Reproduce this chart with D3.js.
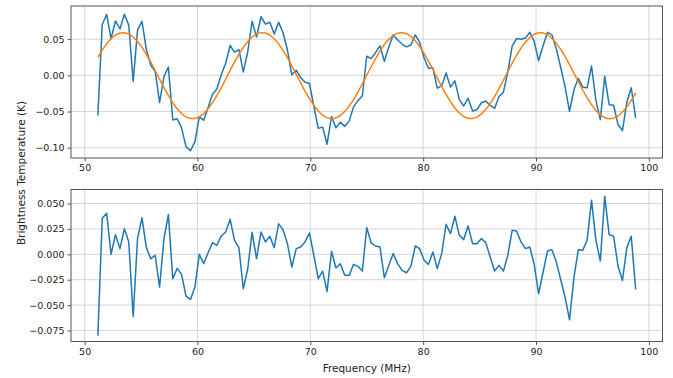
<!DOCTYPE html>
<html>
<head>
<meta charset="utf-8">
<script src="https://cdn.jsdelivr.net/npm/d3@7"></script>
<style>
  html, body { margin: 0; padding: 0; background: #fff; }
  svg { display: block; font-family: "DejaVu Sans", sans-serif; }
</style>
</head>
<body>
<svg id="chart" width="673" height="378"></svg>
<script>
// frequency channels (MHz)
const freqs = [51.17, 51.56, 51.95, 52.34, 52.73, 53.13, 53.52, 53.91, 54.30, 54.69,
  55.08, 55.47, 55.86, 56.25, 56.64, 57.03, 57.42, 57.81, 58.20, 58.59,
  58.98, 59.38, 59.77, 60.16, 60.55, 60.94, 61.33, 61.72, 62.11, 62.50,
  62.89, 63.28, 63.67, 64.06, 64.45, 64.84, 65.23, 65.63, 66.02, 66.41,
  66.80, 67.19, 67.58, 67.97, 68.36, 68.75, 69.14, 69.53, 69.92, 70.31,
  70.70, 71.09, 71.48, 71.88, 72.27, 72.66, 73.05, 73.44, 73.83, 74.22,
  74.61, 75.00, 75.39, 75.78, 76.17, 76.56, 76.95, 77.34, 77.73, 78.13,
  78.52, 78.91, 79.30, 79.69, 80.08, 80.47, 80.86, 81.25, 81.64, 82.03,
  82.42, 82.81, 83.20, 83.59, 83.98, 84.38, 84.77, 85.16, 85.55, 85.94,
  86.33, 86.72, 87.11, 87.50, 87.89, 88.28, 88.67, 89.06, 89.45, 89.84,
  90.23, 90.63, 91.02, 91.41, 91.80, 92.19, 92.58, 92.97, 93.36, 93.75,
  94.14, 94.53, 94.92, 95.31, 95.70, 96.09, 96.48, 96.88, 97.27, 97.66,
  98.05, 98.44, 98.83];

// measured brightness temperature (K)
const tbData = [-0.0554, 0.0702, 0.0840, 0.0506, 0.0750, 0.0640, 0.0842, 0.0692, -0.0083, 0.0628,
  0.0745, 0.0356, 0.0139, 0.0056, -0.0374, -0.0014, 0.0114, -0.0617, -0.0600, -0.0725,
  -0.0985, -0.1041, -0.0919, -0.0574, -0.0620, -0.0446, -0.0263, -0.0190, 0.0012, 0.0167,
  0.0412, 0.0320, 0.0356, 0.0047, 0.0322, 0.0746, 0.0528, 0.0809, 0.0706, 0.0733,
  0.0571, 0.0734, 0.0588, 0.0349, 0.0007, 0.0070, -0.0031, -0.0096, -0.0113, -0.0426,
  -0.0733, -0.0716, -0.0952, -0.0570, -0.0724, -0.0647, -0.0705, -0.0633, -0.0436, -0.0350,
  -0.0282, 0.0264, 0.0230, 0.0313, 0.0407, 0.0195, 0.0389, 0.0558, 0.0490, 0.0432,
  0.0393, 0.0418, 0.0558, 0.0453, 0.0243, 0.0097, 0.0104, -0.0178, -0.0147, 0.0032,
  -0.0161, -0.0077, -0.0333, -0.0424, -0.0316, -0.0493, -0.0473, -0.0379, -0.0355, -0.0416,
  -0.0458, -0.0293, -0.0233, 0.0043, 0.0405, 0.0507, 0.0497, 0.0514, 0.0594, 0.0468,
  0.0200, 0.0412, 0.0593, 0.0558, 0.0368, 0.0108, -0.0164, -0.0499, -0.0200, -0.0042,
  -0.0164, -0.0173, 0.0128, -0.0347, -0.0612, -0.0013, -0.0406, -0.0414, -0.0680, -0.0764,
  -0.0370, -0.0172, -0.0589];

// fitted sinusoid (K)
const tbFit = [0.0246, 0.0347, 0.0435, 0.0506, 0.0556, 0.0584, 0.0589, 0.0570, 0.0529, 0.0467,
  0.0386, 0.0290, 0.0182, 0.0066, -0.0052, -0.0169, -0.0278, -0.0377, -0.0462, -0.0528,
  -0.0574, -0.0597, -0.0597, -0.0574, -0.0528, -0.0462, -0.0378, -0.0279, -0.0169, -0.0053,
  0.0067, 0.0182, 0.0290, 0.0386, 0.0467, 0.0529, 0.0571, 0.0589, 0.0584, 0.0555,
  0.0505, 0.0434, 0.0345, 0.0244, 0.0132, 0.0014, -0.0103, -0.0218, -0.0323, -0.0416,
  -0.0493, -0.0551, -0.0587, -0.0600, -0.0589, -0.0555, -0.0498, -0.0426, -0.0337, -0.0232,
  -0.0117, 0.0001, 0.0118, 0.0231, 0.0335, 0.0425, 0.0498, 0.0551, 0.0582, 0.0590,
  0.0574, 0.0536, 0.0476, 0.0397, 0.0302, 0.0196, 0.0081, -0.0037, -0.0154, -0.0264,
  -0.0365, -0.0452, -0.0520, -0.0569, -0.0596, -0.0598, -0.0578, -0.0534, -0.0470, -0.0390,
  -0.0293, -0.0184, -0.0068, 0.0053, 0.0168, 0.0277, 0.0375, 0.0458, 0.0522, 0.0567,
  0.0588, 0.0586, 0.0560, 0.0512, 0.0444, 0.0358, 0.0257, 0.0146, 0.0030, -0.0088,
  -0.0203, -0.0311, -0.0405, -0.0485, -0.0546, -0.0585, -0.0600, -0.0592, -0.0562, -0.0507,
  -0.0436, -0.0350, -0.0244];

// residual, data minus fit (K)
const tbResid = [-0.0800, 0.0355, 0.0405, 0.0000, 0.0194, 0.0056, 0.0253, 0.0122, -0.0612, 0.0161,
  0.0359, 0.0066, -0.0043, -0.0010, -0.0322, 0.0155, 0.0392, -0.0240, -0.0138, -0.0197,
  -0.0411, -0.0444, -0.0322, 0.0000, -0.0092, 0.0016, 0.0115, 0.0089, 0.0181, 0.0220,
  0.0345, 0.0138, 0.0066, -0.0339, -0.0145, 0.0217, -0.0043, 0.0220, 0.0122, 0.0178,
  0.0066, 0.0300, 0.0243, 0.0105, -0.0125, 0.0056, 0.0072, 0.0122, 0.0210, -0.0010,
  -0.0240, -0.0165, -0.0365, 0.0030, -0.0135, -0.0092, -0.0207, -0.0207, -0.0099, -0.0118,
  -0.0165, 0.0263, 0.0112, 0.0082, 0.0072, -0.0230, -0.0109, 0.0007, -0.0092, -0.0158,
  -0.0181, -0.0118, 0.0082, 0.0056, -0.0059, -0.0099, 0.0023, -0.0141, 0.0007, 0.0296,
  0.0204, 0.0375, 0.0187, 0.0145, 0.0280, 0.0105, 0.0105, 0.0155, 0.0115, -0.0026,
  -0.0165, -0.0109, -0.0165, -0.0010, 0.0237, 0.0230, 0.0122, 0.0056, 0.0072, -0.0099,
  -0.0388, -0.0174, 0.0033, 0.0046, -0.0076, -0.0250, -0.0421, -0.0645, -0.0230, 0.0046,
  0.0039, 0.0138, 0.0533, 0.0138, -0.0066, 0.0572, 0.0194, 0.0178, -0.0118, -0.0257,
  0.0066, 0.0178, -0.0345];

const xTicks = [50, 60, 70, 80, 90, 100];
const topYTicks = [-0.10, -0.05, 0.00, 0.05];
const botYTicks = [-0.075, -0.050, -0.025, 0.000, 0.025, 0.050];

const blue = '#1f77b4';
const orange = '#ff7f0e';

const svg = d3.select('#chart');
const left = 71, right = 662.5;

const x = d3.scaleLinear()
  .domain([48.79, 101.21])
  .range([left, right]);

function drawPanel(top, bottom, yDomain, yTicks, yFmt, series) {
  const y = d3.scaleLinear().domain(yDomain).range([bottom, top]);
  const g = svg.append('g');

  // grid
  g.append('g').selectAll('line')
    .data(xTicks)
    .enter().append('line')
    .attr('x1', d => x(d)).attr('x2', d => x(d))
    .attr('y1', top).attr('y2', bottom)
    .attr('stroke', '#d6d6d6').attr('stroke-width', 1);
  g.append('g').selectAll('line')
    .data(yTicks)
    .enter().append('line')
    .attr('x1', left).attr('x2', right)
    .attr('y1', d => y(d)).attr('y2', d => y(d))
    .attr('stroke', '#d6d6d6').attr('stroke-width', 1);

  // lines
  series.forEach(s => {
    const line = d3.line()
      .x((d, i) => x(freqs[i]))
      .y(d => y(d));
    g.append('path')
      .datum(s.values)
      .attr('d', line)
      .attr('fill', 'none')
      .attr('stroke', s.color)
      .attr('stroke-width', 1.5)
      .attr('stroke-linejoin', 'round');
  });

  // axes
  const xAxis = g.append('g')
    .attr('transform', 'translate(0,' + bottom + ')')
    .call(d3.axisBottom(x).tickValues(xTicks).tickSize(3.5).tickPadding(3).tickFormat(d3.format('d')));
  const yAxis = g.append('g')
    .attr('transform', 'translate(' + left + ',0)')
    .call(d3.axisLeft(y).tickValues(yTicks).tickSize(3.5).tickPadding(3).tickFormat(yFmt));
  [xAxis, yAxis].forEach(a => {
    a.select('.domain').remove();
    a.selectAll('line').attr('stroke', '#555');
    a.selectAll('text')
      .attr('fill', '#222')
      .style('font-family', '"DejaVu Sans", sans-serif')
      .style('font-size', '9.5px');
  });

  // frame
  g.append('rect')
    .attr('x', left).attr('y', top)
    .attr('width', right - left).attr('height', bottom - top)
    .attr('fill', 'none')
    .attr('stroke', '#555')
    .attr('stroke-width', 1);
}

drawPanel(6, 158, [-0.1142, 0.0957], topYTicks, d => d3.format('.2f')(d),
  [{ values: tbData, color: blue }, { values: tbFit, color: orange }]);

drawPanel(189.5, 341.5, [-0.0858, 0.0638], botYTicks, d => d3.format('.3f')(d),
  [{ values: tbResid, color: blue }]);

// axis titles
svg.append('text')
  .attr('x', (left + right) / 2)
  .attr('y', 372)
  .attr('text-anchor', 'middle')
  .attr('fill', '#222')
  .style('font-size', '10.5px')
  .text('Frequency (MHz)');

svg.append('text')
  .attr('transform', 'translate(24.5,173) rotate(-90)')
  .attr('text-anchor', 'middle')
  .attr('fill', '#222')
  .style('font-size', '10.5px')
  .text('Brightness Temperature (K)');
</script>
</body>
</html>
